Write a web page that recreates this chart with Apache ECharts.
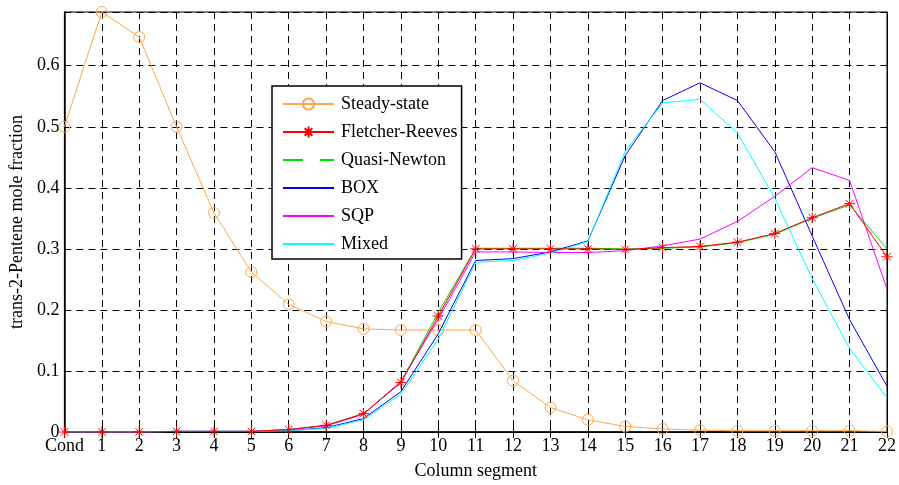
<!DOCTYPE html>
<html>
<head>
<meta charset="utf-8">
<script src="https://cdn.jsdelivr.net/npm/echarts@6/dist/echarts.min.js"></script>
<style>
  html, body { margin: 0; padding: 0; background: #fff; }
  #chart { width: 899px; height: 485px; }
</style>
</head>
<body>
<div id="chart"></div>
<script>
// Column segments along the x axis
const segments = ['Cond', '1', '2', '3', '4', '5', '6', '7', '8', '9', '10', '11',
  '12', '13', '14', '15', '16', '17', '18', '19', '20', '21', '22'];

// trans-2-Pentene mole fraction per segment for each case
const steadyState = [0.500, 0.688, 0.647, 0.500, 0.359, 0.262, 0.209, 0.181, 0.169, 0.167, 0.167, 0.167,
  0.084, 0.040, 0.020, 0.009, 0.005, 0.003, 0.002, 0.002, 0.002, 0.002, 0.001];
const fletcherReeves = [0, 0, 0, 0.001, 0.001, 0.001, 0.004, 0.011, 0.030, 0.081, 0.190, 0.300,
  0.300, 0.300, 0.300, 0.299, 0.302, 0.304, 0.311, 0.325, 0.351, 0.374, 0.287];
const quasiNewton = [0, 0, 0, 0.001, 0.001, 0.001, 0.004, 0.011, 0.030, 0.082, 0.196, 0.301,
  0.301, 0.301, 0.301, 0.300, 0.301, 0.303, 0.310, 0.324, 0.350, 0.372, 0.300];
const box = [0, 0, 0, 0.001, 0.001, 0.001, 0.002, 0.007, 0.022, 0.066, 0.161, 0.281,
  0.284, 0.295, 0.313, 0.453, 0.543, 0.572, 0.543, 0.459, 0.321, 0.184, 0.075];
const sqp = [0, 0, 0, 0.001, 0.001, 0.001, 0.004, 0.010, 0.029, 0.083, 0.185, 0.295,
  0.295, 0.294, 0.294, 0.297, 0.305, 0.316, 0.345, 0.386, 0.433, 0.412, 0.234];
const mixed = [0, 0, 0, 0.001, 0.001, 0.001, 0.002, 0.006, 0.020, 0.062, 0.152, 0.278,
  0.281, 0.293, 0.312, 0.460, 0.539, 0.545, 0.490, 0.383, 0.251, 0.137, 0.056];

// Y axis range and tick step
const yMin = 0;
const yMax = 0.688;
const yStep = 0.1;

const FONT = '"Liberation Serif", "Times New Roman", serif';
const asterisk = 'path://M5,0L5,10M0,5L10,5M1.6,1.6L8.4,8.4M1.6,8.4L8.4,1.6';

const chart = echarts.init(document.getElementById('chart'), null, { renderer: 'canvas' });

const gridLine = { show: true, interval: 0, lineStyle: { color: '#000', type: [7, 5], width: 1 } };
const hiddenMarker = { opacity: 0 };

chart.setOption({
  animation: false,
  backgroundColor: '#fff',
  grid: {
    left: 64, right: 7, top: 12, bottom: 49,
    show: true, borderColor: '#000', borderWidth: 1
  },
  legend: {
    orient: 'vertical',
    left: 272, top: 86,
    padding: [9, 4, 6, 10],
    itemWidth: 51, itemHeight: 14, itemGap: 10,
    backgroundColor: '#fff',
    borderColor: '#000', borderWidth: 1.5,
    textStyle: { fontFamily: FONT, fontSize: 18, color: '#000', padding: [0, 0, 0, 2] },
    data: [
      { name: 'Steady-state' },
      { name: 'Fletcher-Reeves' },
      { name: 'Quasi-Newton', itemStyle: hiddenMarker, lineStyle: { type: [20, 17] } },
      { name: 'BOX', itemStyle: hiddenMarker },
      { name: 'SQP', itemStyle: hiddenMarker },
      { name: 'Mixed', itemStyle: hiddenMarker }
    ]
  },
  xAxis: [{
    type: 'category', data: segments, boundaryGap: false,
    axisLine: { lineStyle: { color: '#000', width: 1.5 } },
    axisTick: { inside: true, length: 6, interval: 0, lineStyle: { color: '#000' } },
    axisLabel: { fontFamily: FONT, fontSize: 18, color: '#000', margin: 5, interval: 0 },
    splitLine: gridLine,
    name: 'Column segment', nameLocation: 'middle', nameGap: 30,
    nameTextStyle: { fontFamily: FONT, fontSize: 18, color: '#000' }
  }, {
    type: 'category', data: segments, boundaryGap: false, position: 'top',
    axisLine: { lineStyle: { color: '#000' } },
    axisTick: { inside: true, length: 6, interval: 0, lineStyle: { color: '#000' } },
    axisLabel: { show: false }, splitLine: { show: false }
  }],
  yAxis: [{
    type: 'value', min: yMin, max: yMax, interval: yStep,
    axisLine: { show: true, lineStyle: { color: '#000', width: 1.5 } },
    axisTick: { show: true, inside: true, length: 6, lineStyle: { color: '#000' } },
    axisLabel: {
      fontFamily: FONT, fontSize: 18, color: '#000', margin: 5,
      showMaxLabel: false,
      formatter: v => (v === 0 ? '0' : String(Math.round(v * 10) / 10))
    },
    splitLine: gridLine,
    name: 'trans-2-Pentene mole fraction', nameLocation: 'middle', nameGap: 37,
    nameTextStyle: { fontFamily: FONT, fontSize: 18, color: '#000' }
  }, {
    type: 'value', min: yMin, max: yMax, interval: yStep, position: 'right',
    axisLine: { show: true, lineStyle: { color: '#000' } },
    axisTick: { show: true, inside: true, length: 6, lineStyle: { color: '#000' } },
    axisLabel: { show: false }, splitLine: { show: false }
  }],
  series: [
    {
      name: 'Steady-state', type: 'line', data: steadyState,
      symbol: 'circle', symbolSize: 11, showAllSymbol: true,
      lineStyle: { color: '#ffa64d', width: 1 },
      itemStyle: { color: 'rgba(0,0,0,0)', borderColor: '#ffa64d', borderWidth: 1 },
      emphasis: { disabled: true }, z: 2
    },
    {
      name: 'Fletcher-Reeves', type: 'line', data: fletcherReeves,
      symbol: asterisk, symbolSize: 11, showAllSymbol: true,
      lineStyle: { color: '#ff0000', width: 1 },
      itemStyle: { color: '#ff0000', borderColor: '#ff0000', borderWidth: 1 },
      emphasis: { disabled: true }, z: 4
    },
    {
      name: 'Quasi-Newton', type: 'line', data: quasiNewton,
      symbol: 'none',
      lineStyle: { color: '#00dd00', width: 1 },
      itemStyle: { color: '#00dd00' },
      emphasis: { disabled: true }, z: 3
    },
    {
      name: 'BOX', type: 'line', data: box,
      symbol: 'none',
      lineStyle: { color: '#0000ff', width: 1 },
      itemStyle: { color: '#0000ff' },
      emphasis: { disabled: true }, z: 3
    },
    {
      name: 'SQP', type: 'line', data: sqp,
      symbol: 'none',
      lineStyle: { color: '#ff00ff', width: 1 },
      itemStyle: { color: '#ff00ff' },
      emphasis: { disabled: true }, z: 3
    },
    {
      name: 'Mixed', type: 'line', data: mixed,
      symbol: 'none',
      lineStyle: { color: '#00ffff', width: 1 },
      itemStyle: { color: '#00ffff' },
      emphasis: { disabled: true }, z: 3
    }
  ]
});
</script>
</body>
</html>
